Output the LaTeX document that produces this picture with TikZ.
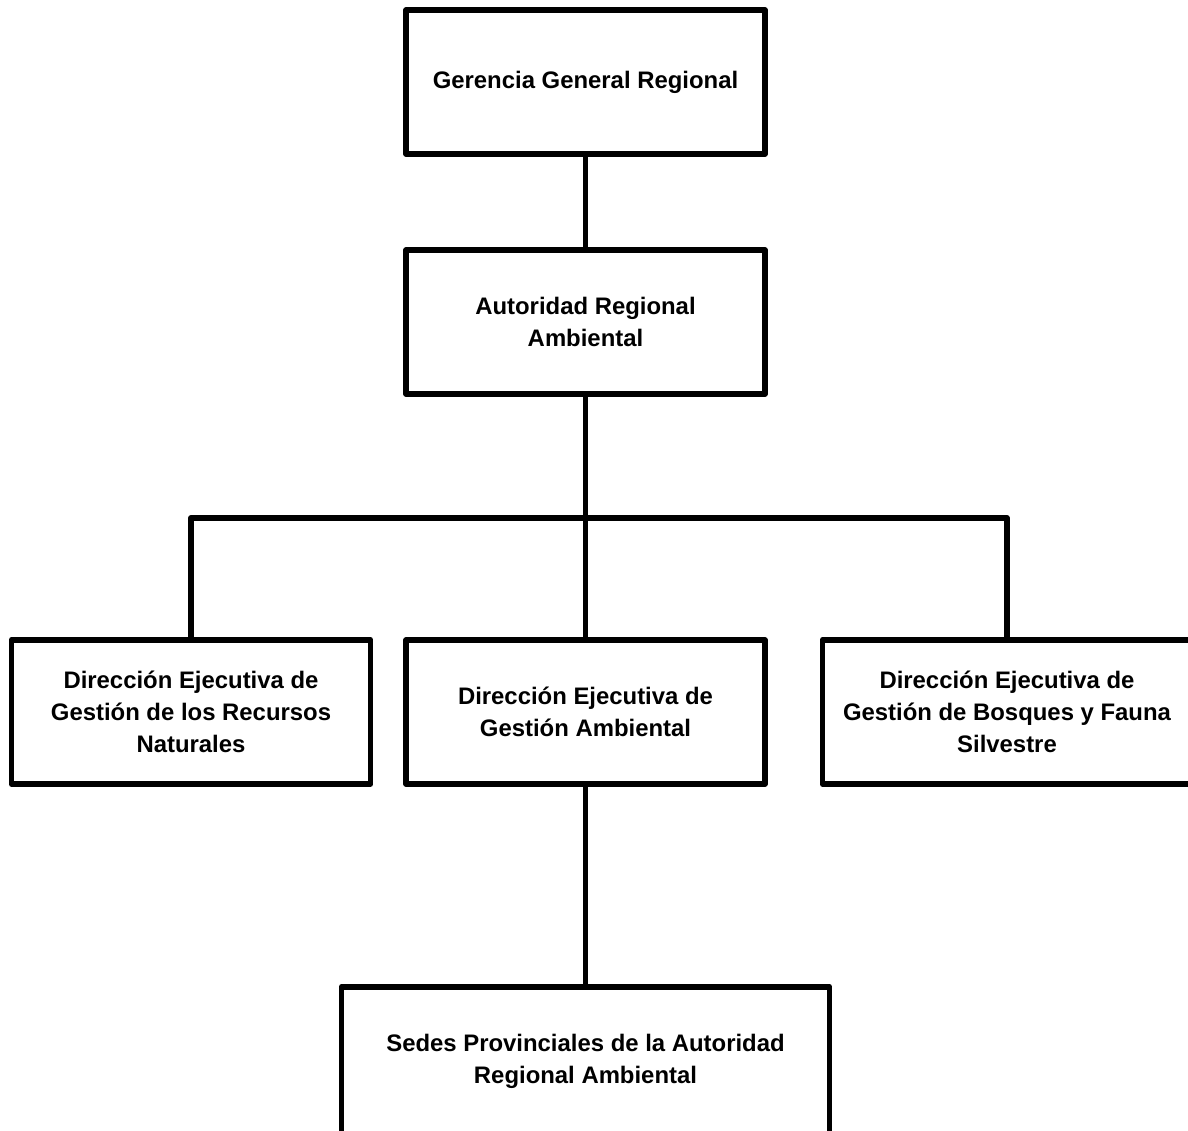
\documentclass[tikz,border=0pt]{standalone}
\usepackage{fontspec}
\setmainfont{Liberation Sans}

\begin{document}
\begin{tikzpicture}[x=0.02cm,y=-0.02cm,line width=3.3pt,line join=round,
  block/.style={rectangle,draw=black,minimum width=7.18cm,minimum height=2.88cm,
    align=center,font=\fontsize{13.6}{18.1}\selectfont\bfseries}]
\useasboundingbox (0,0) rectangle (1188,1131);
\clip (0,0) rectangle (1188,1131);
\node at (585.5,  82) (ggr)   [block] {Gerencia General Regional};
\node at (585.5, 322) (ara)   [block] {Autoridad Regional\\Ambiental};
\node at (191,   712) (dejrn) [block] {Dirección Ejecutiva de\\Gestión de los Recursos\\Naturales};
\node at (585.5, 712) (dejga) [block] {Dirección Ejecutiva de\\Gestión Ambiental};
\node at (1007,  712) (dejbf) [block,minimum width=7.38cm] {Dirección Ejecutiva de\\Gestión de Bosques y Fauna\\Silvestre};
\node at (585.5,1061) (sedes) [block,minimum width=9.76cm,minimum height=2.96cm] {Sedes Provinciales de la Autoridad\\Regional Ambiental};
\coordinate (bar) at (585.5, 518);
\draw (ggr) -- (ara);
\draw (ara) -- (dejga);
\draw (dejrn) |- (bar) -| (dejbf);
\draw (dejga) -- (sedes);
\end{tikzpicture}
\end{document}
